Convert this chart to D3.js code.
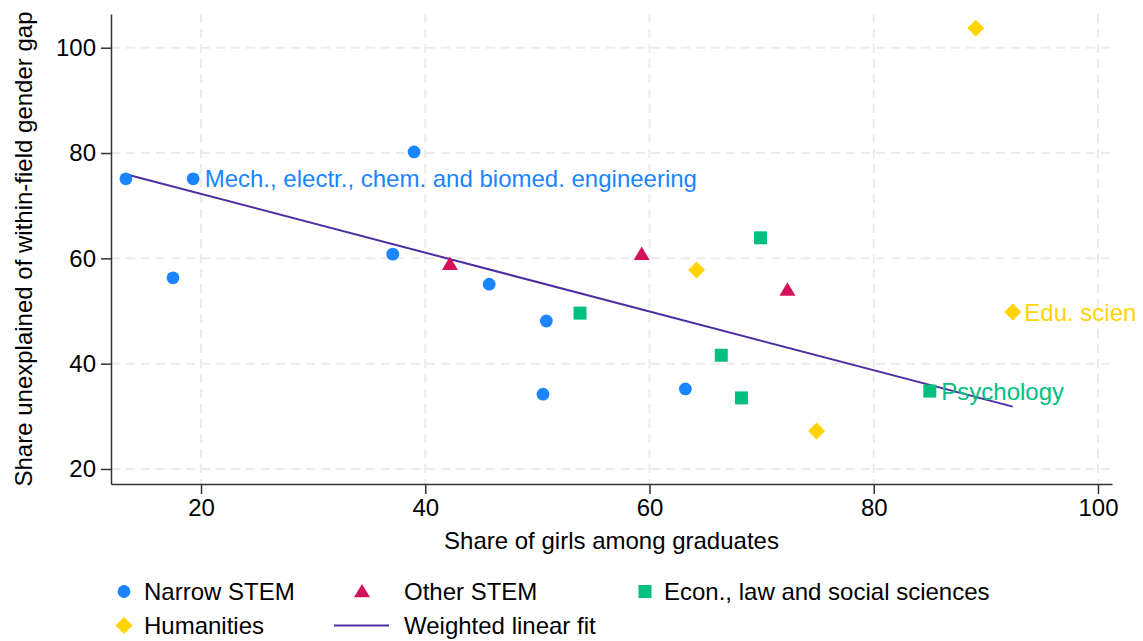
<!DOCTYPE html>
<html>
<head>
<meta charset="utf-8">
<script src="https://cdn.jsdelivr.net/npm/d3@7"></script>
<style>
  body { margin: 0; background: #fff; }
  svg { display: block; font-family: "Liberation Sans", Arial, Helvetica, sans-serif; }
</style>
</head>
<body>
<script>
// groups of fields (x = share of girls, y = share unexplained)
const narrowStem = [
  {x: 13.3, y: 75.1}, {x: 19.3, y: 75.1, label: "Mech., electr., chem. and biomed. engineering"},
  {x: 17.5, y: 56.3}, {x: 39.0, y: 80.2}, {x: 37.1, y: 60.8}, {x: 45.7, y: 55.1},
  {x: 50.8, y: 48.1}, {x: 50.5, y: 34.2}, {x: 63.2, y: 35.2}
];
const otherStem = [
  {x: 42.2, y: 58.9}, {x: 59.3, y: 60.8}, {x: 72.3, y: 54.0}
];
const econLaw = [
  {x: 53.8, y: 49.6}, {x: 69.9, y: 63.9}, {x: 66.4, y: 41.6}, {x: 68.2, y: 33.5},
  {x: 85.0, y: 34.8, label: "Psychology"}
];
const humanities = [
  {x: 89.1, y: 103.7}, {x: 64.2, y: 57.8}, {x: 74.9, y: 27.2},
  {x: 92.4, y: 49.8, label: "Edu. scien"}
];
// weighted linear fit (estimated from the drawn line)
const fitIntercept = 83.4;
const fitSlope = -0.558;

const xTicks = [20, 40, 60, 80, 100];
const yTicks = [20, 40, 60, 80, 100];

const groups = [
  {name: "Narrow STEM", data: narrowStem, color: "#1a85ff", shape: "circle"},
  {name: "Other STEM", data: otherStem, color: "#d41159", shape: "triangle"},
  {name: "Econ., law and social sciences", data: econLaw, color: "#00bf7f", shape: "square"},
  {name: "Humanities", data: humanities, color: "#ffd400", shape: "diamond"}
];
const lineColor = "#4f2ca0";

const W = 1143, H = 641;
const margin = {left: 111, right: 31, top: 14, bottom: 157};

const svg = d3.select("body").append("svg")
  .attr("width", W).attr("height", H);

const x = d3.scaleLinear().domain([11.97, 101.25]).range([margin.left, W - margin.right]);
const y = d3.scaleLinear().domain([17.15, 106.4]).range([H - margin.bottom, margin.top]);

// grid
const grid = svg.append("g")
  .attr("stroke", "#ebebeb").attr("stroke-width", 2).attr("stroke-dasharray", "9,6");
grid.selectAll(".gy").data(yTicks).enter().append("line")
  .attr("x1", margin.left).attr("x2", W - margin.right)
  .attr("y1", d => y(d)).attr("y2", d => y(d));
grid.selectAll(".gx").data(xTicks).enter().append("line")
  .attr("y1", margin.top).attr("y2", H - margin.bottom)
  .attr("x1", d => x(d)).attr("x2", d => x(d));

// axes
const xAxis = svg.append("g")
  .attr("transform", `translate(0,${H - margin.bottom})`)
  .call(d3.axisBottom(x).tickValues(xTicks).tickSize(10).tickPadding(5).tickSizeOuter(0));
const yAxis = svg.append("g")
  .attr("transform", `translate(${margin.left},0)`)
  .call(d3.axisLeft(y).tickValues(yTicks).tickSize(10).tickPadding(5).tickSizeOuter(0));
[xAxis, yAxis].forEach(a => {
  a.select(".domain").attr("stroke", "#333").attr("stroke-width", 1.5);
  a.selectAll(".tick line").attr("stroke", "#333").attr("stroke-width", 1.5);
  a.selectAll(".tick text").attr("font-size", 24).attr("fill", "#000")
    .attr("font-family", "Liberation Sans, Arial, sans-serif");
});

// axis titles
svg.append("text")
  .attr("x", (margin.left + W - margin.right) / 2).attr("y", 549)
  .attr("text-anchor", "middle").attr("font-size", 24)
  .text("Share of girls among graduates");
svg.append("text")
  .attr("transform", `translate(31.5,${(margin.top + H - margin.bottom) / 2}) rotate(-90)`)
  .attr("text-anchor", "middle").attr("font-size", 24)
  .text("Share unexplained of within-field gender gap");

// fit line
const allX = groups.flatMap(g => g.data.map(d => d.x));
const fitX = d3.extent(allX);
svg.append("path")
  .datum(fitX.map(v => [v, fitIntercept + fitSlope * v]))
  .attr("fill", "none").attr("stroke", lineColor).attr("stroke-width", 2)
  .attr("d", d3.line().x(d => x(d[0])).y(d => y(d[1])));

function symbolFor(shape) {
  if (shape === "circle") return d3.symbol().type(d3.symbolCircle).size(Math.PI * 6.4 * 6.4);
  if (shape === "square") return d3.symbol().type(d3.symbolSquare).size(13 * 13);
  if (shape === "diamond") return d3.symbol().type(d3.symbolSquare).size(12 * 12);
  return null;
}
function drawMarker(sel, shape, color) {
  if (shape === "triangle") {
    sel.append("path").attr("fill", color).attr("d", "M0,-7.6L8,5.8L-8,5.8Z");
  } else {
    const p = sel.append("path").attr("fill", color).attr("d", symbolFor(shape)());
    if (shape === "diamond") p.attr("transform", "rotate(45)");
  }
}

// points
groups.forEach(g => {
  const pts = svg.append("g").selectAll("g").data(g.data).enter().append("g")
    .attr("transform", d => `translate(${x(d.x)},${y(d.y)})`);
  pts.each(function() { drawMarker(d3.select(this), g.shape, g.color); });
  pts.filter(d => d.label).append("text")
    .attr("x", 11.5).attr("dy", "0.36em")
    .attr("font-size", 24).attr("fill", g.color)
    .text(d => d.label);
});

// legend
const legendItems = [
  {name: "Narrow STEM", shape: "circle", color: groups[0].color, mx: 124, tx: 144, row: 0},
  {name: "Other STEM", shape: "triangle", color: groups[1].color, mx: 362, tx: 404, row: 0},
  {name: "Econ., law and social sciences", shape: "square", color: groups[2].color, mx: 645, tx: 664, row: 0},
  {name: "Humanities", shape: "diamond", color: groups[3].color, mx: 124, tx: 144, row: 1},
  {name: "Weighted linear fit", shape: "line", color: lineColor, mx: 361.5, tx: 404, row: 1}
];
const rowY = [591.5, 625.5];
const lg = svg.append("g");
legendItems.forEach(it => {
  const g = lg.append("g").attr("transform", `translate(0,${rowY[it.row]})`);
  const m = g.append("g").attr("transform", `translate(${it.mx},0)`);
  if (it.shape === "line") {
    m.append("line").attr("x1", -27.5).attr("x2", 27.5)
      .attr("stroke", it.color).attr("stroke-width", 2);
  } else {
    drawMarker(m, it.shape, it.color);
  }
  g.append("text").attr("x", it.tx).attr("dy", "0.36em")
    .attr("font-size", 24).text(it.name);
});
</script>
</body>
</html>
